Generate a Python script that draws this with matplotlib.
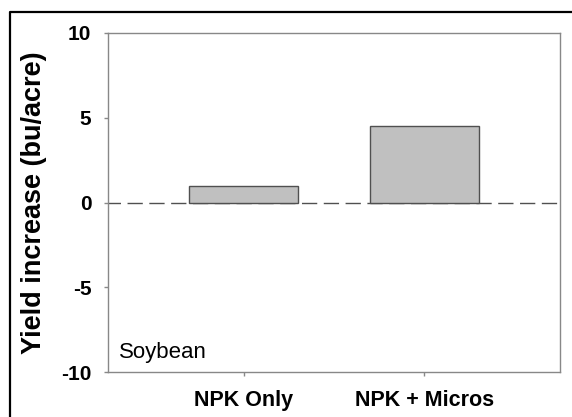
import matplotlib
matplotlib.use("Agg")
import matplotlib.pyplot as plt
from matplotlib.lines import Line2D

categories = ["NPK Only", "NPK + Micros"]
yield_increase = [1.0, 4.5]
y_ticks = [-10, -5, 0, 5, 10]
panel_label = "Soybean"

plt.rcParams['font.family'] = ['Liberation Sans', 'DejaVu Sans']

W, H = 572, 417
fig = plt.figure(figsize=(W / 100, H / 100), dpi=100)
ax = fig.add_axes([108 / W, 1 - 372 / H, (560 - 108) / W, (372 - 33) / H])

x = list(range(len(categories)))
ax.bar(x, yield_increase, width=0.6, color="#c0c0c0", edgecolor="#505050",
       linewidth=1.0, zorder=3)
ax.axhline(0, color="#505050", linewidth=1.0, linestyle=(2, (11, 4.7)), zorder=2)

ax.set_xlim(-0.75, 1.75)
ax.set_ylim(-10, 10)
ax.set_yticks(y_ticks)
ax.set_yticklabels([str(v) for v in y_ticks], fontsize=15, fontweight="bold")
ax.set_xticks(x)
ax.set_xticklabels(categories, fontsize=15.5, fontweight="bold")

for s in ax.spines.values():
    s.set_color("#888888")
    s.set_linewidth(1.0)
ax.tick_params(axis="y", length=3, width=1, color="#888888", pad=9)
ax.tick_params(axis="x", length=3, width=1, color="#888888", pad=10)

ax.set_ylabel("Yield increase (bu/acre)", fontsize=19.5, fontweight="bold", va="center")
ax.yaxis.set_label_coords((34 - 108) / 452, 0.5)

ax.text(11 / 452, 14 / 339, panel_label, transform=ax.transAxes, fontsize=16,
        ha="left", va="baseline")

# outer frame
fx = 9.5 / W
fy = 1 - 12 / H
fig.add_artist(Line2D([fx, fx, 1.0], [0.0, fy, fy], transform=fig.transFigure,
                      color="black", linewidth=1.6))

fig.savefig("out.png", dpi=100)
